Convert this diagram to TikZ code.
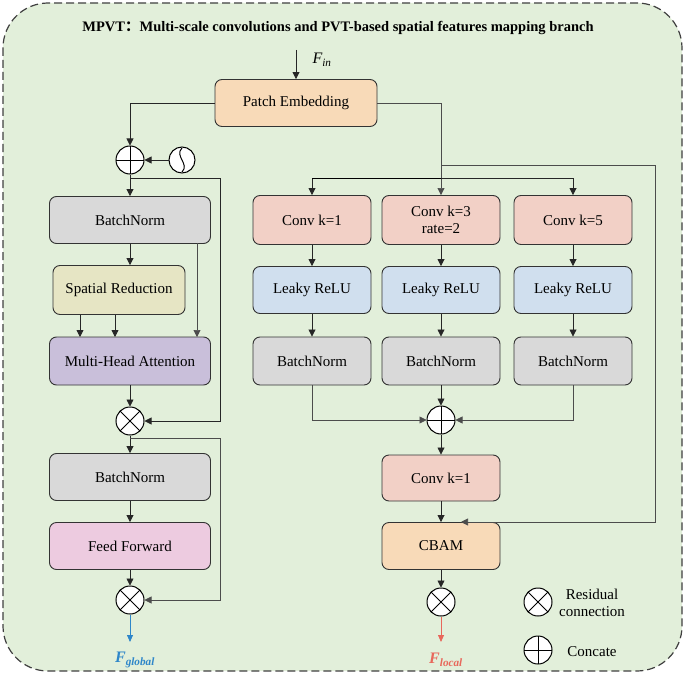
\documentclass[tikz,border=0pt]{standalone}
\usepackage{fontspec}
\setmainfont{Liberation Serif}
\newfontfamily\cjk{Noto Sans CJK SC}
\usetikzlibrary{positioning,arrows.meta,calc}
\definecolor{bggreen}{HTML}{E2EFDA}
\definecolor{peach}{HTML}{F8DAB8}
\definecolor{pinkc}{HTML}{F2D0C6}
\definecolor{greyc}{HTML}{D9D9D9}
\definecolor{olivec}{HTML}{E6E5C4}
\definecolor{purplec}{HTML}{C9BFDA}
\definecolor{magc}{HTML}{EDCBE0}
\definecolor{bluec}{HTML}{D0DFEE}
\definecolor{globc}{HTML}{2E86C9}
\definecolor{locc}{HTML}{E8675B}
\tikzset{
  blk/.style={draw=black!80,line width=0.9pt,rounded corners=7pt,minimum height=47pt,inner sep=0pt,font=\fontsize{15}{17}\selectfont,align=center},
  op/.style={draw,circle,line width=1pt,fill=white,minimum size=28pt,inner sep=0pt},
  arr/.style={-{Triangle[length=7pt,width=7pt]},line width=0.8pt,black!85},
  thin/.style={line width=0.6pt,black!70}
}
\newcommand{\otimesmark}[1]{\draw[line width=1pt] ($(#1)+(-10,-10)$)--($(#1)+(10,10)$) ($(#1)+(-10,10)$)--($(#1)+(10,-10)$);}
\newcommand{\oplusmark}[1]{\draw[line width=1pt] ($(#1)+(-14,0)$)--($(#1)+(14,0)$) ($(#1)+(0,-14)$)--($(#1)+(0,14)$);}
\begin{document}
\begin{tikzpicture}[x=1pt,y=-1pt]
\useasboundingbox (0,0) rectangle (685,674);
\draw[fill=bggreen,dash pattern=on 8pt off 4pt,line width=1.2pt,rounded corners=45pt,draw=black!75] (3,3) rectangle (682,671);
\node[font=\bfseries\fontsize{14.5}{16}\selectfont] (title) at (338,28) {MPVT{\cjk：}Multi-scale convolutions and PVT-based spatial features mapping branch};
% top
\node[blk,fill=peach,minimum width=162pt] (pe) at (296,103) {Patch Embedding};
\coordinate (fin) at (296,50);
\draw[arr] (fin) -- (pe.north);
\node[font=\itshape\fontsize{16}{17}\selectfont] (finl) at (322,60) {F\textsubscript{\itshape in}};
% left branch
\node[op] (add) at (130,160) {};
\oplusmark{add}
\node[op,minimum size=26pt] (pos) at (182,160) {};
\draw[line width=1pt] ($(pos)+(0,-12)$) .. controls ($(pos)+(-8,-4)$) and ($(pos)+(8,4)$) .. ($(pos)+(0,12)$);
\node[blk,fill=greyc,minimum width=161pt] (bn1) at (130,220) {BatchNorm};
\node[blk,fill=olivec,minimum width=132pt,minimum height=49pt] (sr) at (119,290) {Spatial Reduction};
\node[blk,fill=purplec,minimum width=161pt,minimum height=48pt] (mha) at (130,361) {Multi-Head Attention};
\node[op] (mul1) at (130,421) {};
\otimesmark{mul1}
\node[blk,fill=greyc,minimum width=161pt] (bn2) at (130,477) {BatchNorm};
\node[blk,fill=magc,minimum width=161pt] (ff) at (130,546) {Feed Forward};
\node[op] (mul2) at (130,600) {};
\otimesmark{mul2}
\node[font=\bfseries\itshape\fontsize{16}{17}\selectfont,text=globc] (fglob) at (135,660) {F\textsubscript{global}};
\draw[arr] (pe.west) -| (add.north);
\draw[arr] (pos.west) -- (add.east);
\draw[arr] (add.south) -- (bn1.north);
\draw[arr] (bn1.south) -- (bn1.south|-sr.north);
\draw[arr] (80,315) -- (80,337);
\draw[arr] (115,315) -- (115,337);
\draw[arr,thin] (197,243) -- (197,337);
\draw[arr] (mha.south) -- (mul1.north);
\draw[arr] (130,178) -| (220,421) -- (mul1.east);
\draw[arr] (mul1.south) -- (bn2.north);
\draw[arr] (bn2.south) -- (ff.north);
\draw[arr] (ff.south) -- (mul2.north);
\draw[arr,thin] (130,438) -| (220,600) -- (mul2.east);
\draw[-{Triangle[length=7pt,width=6pt]},line width=0.8pt,globc] (mul2.south) -- (130,642);
% right branch
\foreach \nm/\x/\txt in {c1/312/Conv k=1,c3/441/{Conv k=3\\rate=2},c5/573/Conv k=5}{
  \node[blk,fill=pinkc,minimum width=118pt,minimum height=49pt] (\nm) at (\x,220) {\txt};
}
\foreach \nm/\x in {1/312,3/441,5/573}{
  \node[blk,fill=bluec,minimum width=118pt] (lr\nm) at (\x,290) {Leaky ReLU};
  \node[blk,fill=greyc,minimum width=118pt,minimum height=48pt] (bnr\nm) at (\x,361) {BatchNorm};
  \draw[arr] (c\nm.south) -- (lr\nm.north);
  \draw[arr] (lr\nm.south) -- (bnr\nm.north);
}
\node[op] (cat) at (441,420) {};
\oplusmark{cat}
\node[blk,fill=pinkc,minimum width=118pt,minimum height=46pt] (c1b) at (441,478) {Conv k=1};
\node[blk,fill=peach,minimum width=118pt] (cbam) at (441,546) {CBAM};
\node[op] (mul3) at (441,602) {};
\otimesmark{mul3}
\node[font=\bfseries\itshape\fontsize{16}{17}\selectfont,text=locc] (floc) at (446,660) {F\textsubscript{local}};
\draw[thin] (pe.east) -| (441,178);
\draw[arr,thin] (441,178) -- (c3.north);
\draw[arr] (312,178) -- (c1.north);
\draw[arr] (441,178) -| (c5.north);
\draw[line width=0.8pt] (312,178) -- (441,178);
\draw[arr,thin] (441,165) -| (655,522) -- (461,522);
\draw[arr,thin] (bnr1.south) |- (cat.west);
\draw[arr,thin] (bnr5.south) |- (cat.east);
\draw[arr] (bnr3.south) -- (cat.north);
\draw[arr] (cat.south) -- (c1b.north);
\draw[arr] (c1b.south) -- (cbam.north);
\draw[arr] (cbam.south) -- (mul3.north);
\draw[-{Triangle[length=7pt,width=6pt]},line width=0.8pt,locc] (mul3.south) -- (441,642);
% legend
\node[op] (lgmul) at (538,602) {};
\otimesmark{lgmul}
\node[op] (lgadd) at (538,650) {};
\oplusmark{lgadd}
\node[font=\fontsize{15}{17}\selectfont,align=center] (lgmult) at (592,603) {Residual\\connection};
\node[font=\fontsize{15}{17}\selectfont] (lgaddt) at (592,652) {Concate};
\end{tikzpicture}
\end{document}
